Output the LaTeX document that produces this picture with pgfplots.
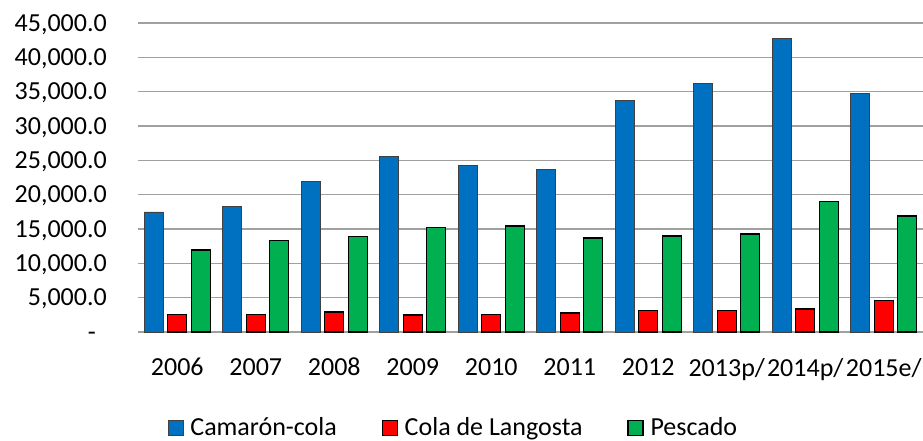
\documentclass[border=0pt]{standalone}
\usepackage{pgfplots}
\pgfplotsset{compat=1.18}
\usepackage{pgfplotstable}
\usepackage{fontspec}
\setmainfont{Carlito}
\definecolor{cblue}{RGB}{0,112,192}
\definecolor{cred}{RGB}{255,0,0}
\definecolor{cgreen}{RGB}{0,176,80}
\definecolor{cgrid}{RGB}{160,160,160}
\pgfplotstableread{
x blue red green
0 17480 2550 11940
1 18250 2520 13300
2 21890 2910 13880
3 25530 2480 15240
4 24320 2520 15430
5 23690 2770 13690
6 33700 3110 13980
7 36200 3150 14270
8 42760 3350 19030
9 34750 4560 16890
}\datatable
\begin{document}
\fontsize{26pt}{31pt}\selectfont
\begin{tikzpicture}
\path[use as bounding box] (0,0) rectangle (923pt,440pt);
\begin{axis}[
  at={(138pt,108pt)}, anchor=south west,
  scale only axis, width=785pt, height=309pt,
  ybar=4.5pt, bar width=19pt,
  xmin=-0.5, xmax=9.5, ymin=0, ymax=45000,
  scaled y ticks=false,
  xtick={0,...,9},
  xticklabels={2006,2007,2008,2009,2010,2011,2012,2013p/,2014p/,2015e/},
  ytick={0,5000,...,45000},
  yticklabels={{\makebox[19pt][l]{-}},{5,000.0},{10,000.0},{15,000.0},{20,000.0},{25,000.0},{30,000.0},{35,000.0},{40,000.0},{45,000.0}},
  axis line style={draw=none},
  major tick length=0pt,
  ymajorgrids, grid style={cgrid, line width=1.2pt},
  xticklabel style={font=\fontsize{26pt}{31pt}\selectfont, anchor=north, inner sep=0pt, yshift=-26pt},
  yticklabel style={font=\fontsize{26pt}{31pt}\selectfont, anchor=base east, inner sep=0pt, xshift=-31pt, yshift=-8.3pt},
  legend columns=3,
  legend cell align=left,
  legend image code/.code={\draw[#1] (0pt,0pt) rectangle (15pt,15pt);},
  legend style={draw=none, fill=none, inner sep=0pt, outer sep=0pt,
    font=\fontsize{26pt}{31pt}\selectfont,
    at={(axis description cs:0.4006,-0.311)}, anchor=center,
    nodes={inner sep=0pt, anchor=base west},
    /tikz/every odd column/.append style={column sep=7pt},
    /tikz/every even column/.append style={column sep=44.7pt}},
]
\addplot[fill=cblue, draw=black!75, line width=0.6pt] table[x=x,y=blue]{\datatable};
\addplot[fill=cred, draw=black, line width=1.2pt] table[x=x,y=red]{\datatable};
\addplot[fill=cgreen, draw=black, line width=1.2pt] table[x=x,y=green]{\datatable};
\legend{Camarón-cola,Cola de Langosta,Pescado}
\end{axis}
\end{tikzpicture}
\end{document}
